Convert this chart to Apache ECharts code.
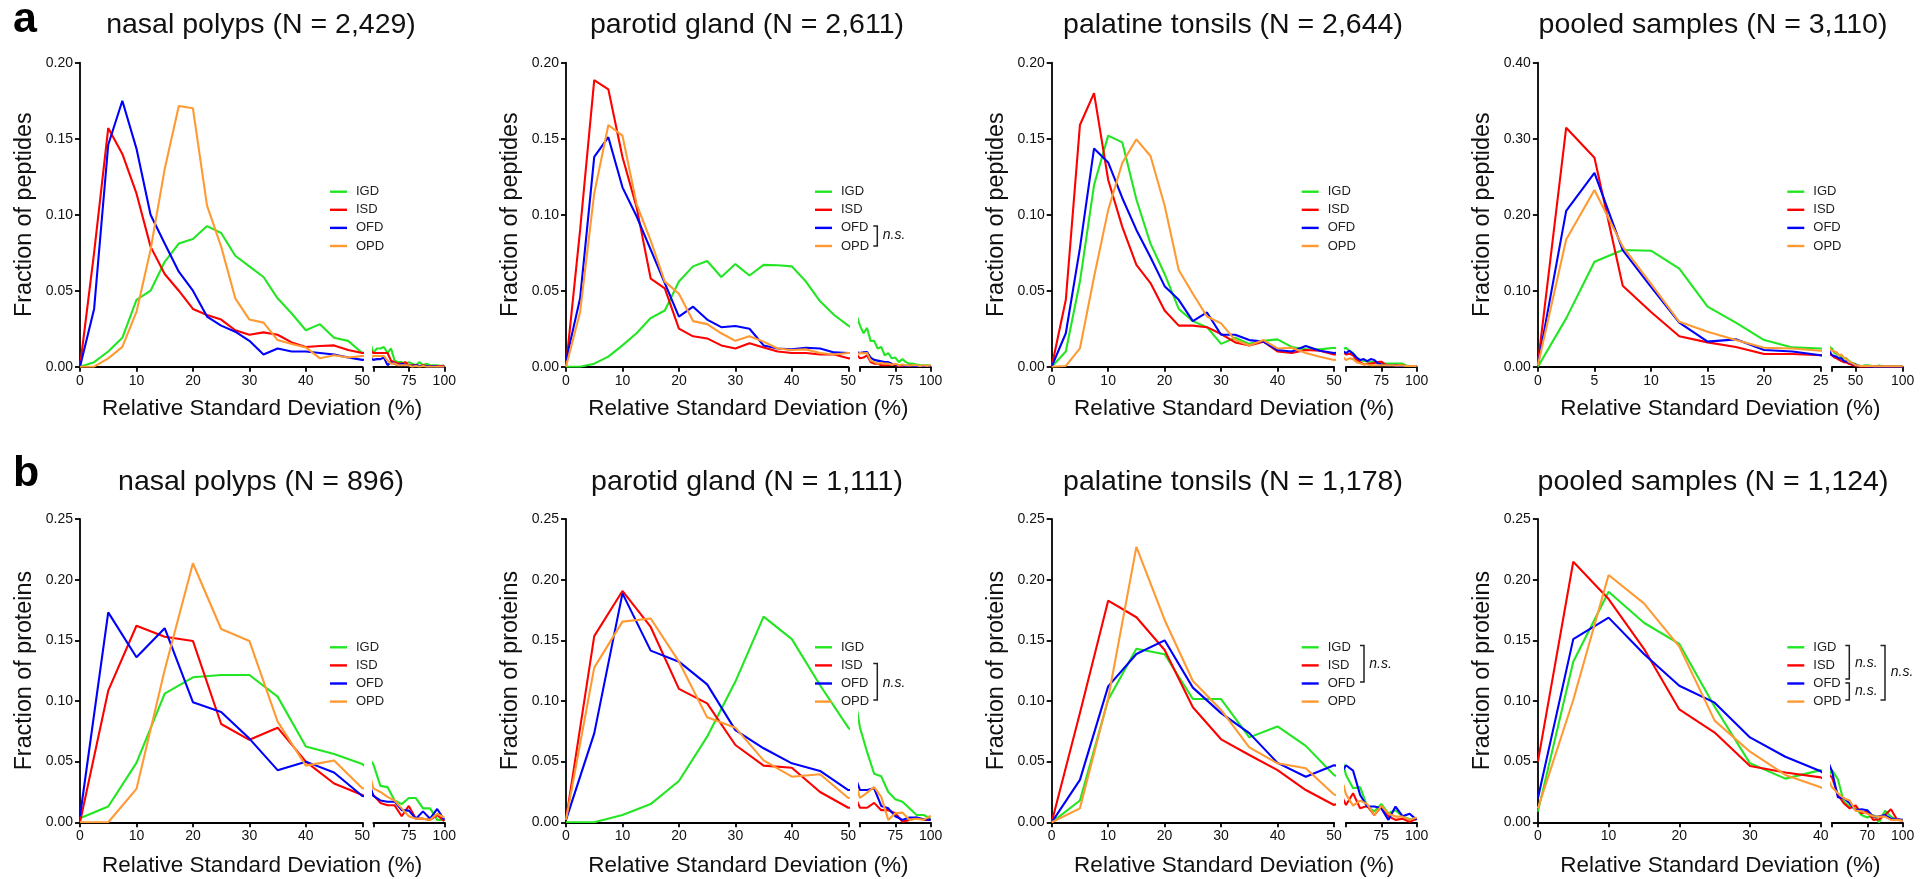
<!DOCTYPE html>
<html>
<head>
<meta charset="utf-8">
<script src="https://cdn.jsdelivr.net/npm/echarts@6/dist/echarts.min.js"></script>
<style>
  html, body { margin: 0; padding: 0; background: #fff; }
  #chart { width: 1932px; height: 879px; }
</style>
</head>
<body>
<div id="chart"></div>
<script>
// ---- data -------------------------------------------------------------
const methods = ['IGD', 'ISD', 'OFD', 'OPD'];

// bin centres (relative standard deviation, %)
const rsdPeptide = [0, 2.5, 5, 7.5, 10, 12.5, 15, 17.5, 20, 22.5, 25, 27.5, 30, 32.5, 35, 37.5, 40, 42.5, 45, 47.5, 50,
  52.5, 55, 57.5, 60, 62.5, 65, 67.5, 70, 72.5, 75, 77.5, 80, 82.5, 85, 87.5, 90, 92.5, 95, 97.5, 100];
const rsdProtein = [0, 5, 10, 15, 20, 25, 30, 35, 40, 45, 50, 55, 60, 65, 70, 75, 80, 85, 90, 95, 100];

// peptides – nasal polyps
const pepNasalIGD = [0, 0.003, 0.010, 0.019, 0.044, 0.050, 0.069, 0.081, 0.084, 0.0925, 0.088, 0.073, 0.066, 0.059, 0.045, 0.035, 0.024, 0.028, 0.019, 0.017, 0.009,
  0.012, 0.012, 0.013, 0.009, 0.012, 0.004, 0.003, 0.003, 0.002, 0.003, 0.002, 0.001, 0.003, 0.001, 0.002, 0.001, 0.001, 0.001, 0.0005, 0.001];
const pepNasalISD = [0, 0.075, 0.157, 0.140, 0.114, 0.079, 0.061, 0.050, 0.038, 0.034, 0.031, 0.024, 0.021, 0.0226, 0.021, 0.016, 0.013, 0.0136, 0.014, 0.011, 0.009,
  0.009, 0.009, 0.009, 0.009, 0.004, 0.003, 0.002, 0.002, 0.003, 0.001, 0.001, 0.001, 0.0005, 0.001, 0.0005, 0.0005, 0.0005, 0.0005, 0.0005, 0.0005];
const pepNasalOFD = [0, 0.038, 0.146, 0.175, 0.1435, 0.100, 0.081, 0.0625, 0.050, 0.033, 0.027, 0.023, 0.017, 0.008, 0.012, 0.010, 0.010, 0.009, 0.008, 0.006, 0.0045,
  0.005, 0.005, 0.006, 0.001, 0.003, 0.002, 0.001, 0.002, 0.001, 0.001, 0.0005, 0.001, 0.0005, 0.0005, 0.0005, 0, 0.0005, 0, 0, 0];
const pepNasalOPD = [0, 0, 0.0055, 0.013, 0.036, 0.077, 0.130, 0.1715, 0.170, 0.106, 0.079, 0.045, 0.031, 0.029, 0.0175, 0.015, 0.0127, 0.0055, 0.0075, 0.006, 0.007,
  0.007, 0.007, 0.007, 0.004, 0.002, 0.002, 0.001, 0.001, 0.001, 0.001, 0, 0.0005, 0, 0.0005, 0, 0, 0, 0, 0, 0];

// peptides – parotid gland
const pepParotidIGD = [0, 0, 0.002, 0.0066, 0.014, 0.022, 0.032, 0.037, 0.056, 0.066, 0.0695, 0.059, 0.0675, 0.060, 0.067, 0.0667, 0.066, 0.056, 0.043, 0.034, 0.027,
  0.022, 0.0255, 0.017, 0.017, 0.012, 0.013, 0.0075, 0.009, 0.0055, 0.006, 0.003, 0.005, 0.003, 0.002, 0.002, 0.0015, 0.001, 0.001, 0.001, 0.0008];
const pepParotidISD = [0, 0.09, 0.1886, 0.1825, 0.138, 0.105, 0.058, 0.0515, 0.025, 0.020, 0.0186, 0.014, 0.012, 0.0154, 0.0127, 0.010, 0.009, 0.009, 0.008, 0.008, 0.0055,
  0.006, 0.0075, 0.003, 0.002, 0.002, 0.001, 0.001, 0.001, 0.0015, 0.001, 0.0005, 0.0005, 0.0005, 0.0005, 0.0005, 0.0005, 0.0005, 0.0005, 0.0005, 0.0005];
const pepParotidOFD = [0.004, 0.045, 0.138, 0.151, 0.118, 0.099, 0.077, 0.055, 0.033, 0.0395, 0.031, 0.026, 0.0268, 0.025, 0.014, 0.012, 0.0114, 0.0125, 0.012, 0.0094, 0.009,
  0.0095, 0.0097, 0.006, 0.0045, 0.004, 0.0035, 0.003, 0.003, 0.002, 0.0015, 0.001, 0.001, 0.0005, 0.001, 0.0005, 0.0005, 0.0005, 0.0005, 0.0005, 0.0005];
const pepParotidOPD = [0, 0.036, 0.114, 0.159, 0.152, 0.107, 0.083, 0.056, 0.048, 0.030, 0.028, 0.022, 0.017, 0.020, 0.0165, 0.012, 0.011, 0.0114, 0.009, 0.008, 0.009,
  0.0088, 0.009, 0.004, 0.003, 0.002, 0.0025, 0.002, 0.002, 0.0015, 0.002, 0.001, 0.0015, 0.001, 0.001, 0.001, 0.001, 0.0005, 0.001, 0.0005, 0.001];

// peptides – palatine tonsils
const pepPalatineIGD = [0, 0.010, 0.056, 0.1195, 0.152, 0.1476, 0.110, 0.081, 0.061, 0.038, 0.030, 0.026, 0.015, 0.019, 0.015, 0.017, 0.018, 0.013, 0.0114, 0.0114, 0.0125,
  0.0103, 0.009, 0.006, 0.0044, 0.0037, 0.0035, 0.0033, 0.003, 0.0025, 0.002, 0.002, 0.002, 0.002, 0.002, 0.002, 0.002, 0.0007, 0.0005, 0.0005, 0.0003];
const pepPalatineISD = [0, 0.044, 0.159, 0.180, 0.123, 0.092, 0.067, 0.055, 0.037, 0.027, 0.027, 0.026, 0.0215, 0.016, 0.014, 0.0165, 0.010, 0.009, 0.011, 0.0105, 0.008,
  0.0085, 0.0075, 0.0045, 0.003, 0.0015, 0.002, 0.002, 0.0025, 0.003, 0.0033, 0.0015, 0.001, 0.001, 0.001, 0.0008, 0.0008, 0.0005, 0.0005, 0.0005, 0.0005];
const pepPalatineOFD = [0, 0.022, 0.078, 0.1436, 0.1344, 0.111, 0.090, 0.072, 0.053, 0.044, 0.030, 0.0357, 0.021, 0.021, 0.0175, 0.0165, 0.011, 0.010, 0.0136, 0.0105, 0.009,
  0.0105, 0.0085, 0.006, 0.0044, 0.005, 0.0037, 0.005, 0.0044, 0.0022, 0.0015, 0.001, 0.001, 0.001, 0.0008, 0.0005, 0.0005, 0.0005, 0.0005, 0.0005, 0.0005];
const pepPalatineOPD = [0, 0.0005, 0.012, 0.059, 0.103, 0.134, 0.1496, 0.1386, 0.106, 0.0636, 0.048, 0.033, 0.0285, 0.0175, 0.014, 0.0175, 0.012, 0.0125, 0.009, 0.0066, 0.0044,
  0.0055, 0.005, 0.003, 0.0022, 0.0015, 0.0015, 0.001, 0.001, 0.001, 0.001, 0.001, 0.001, 0.001, 0.0008, 0.0008, 0.0008, 0.0005, 0.0005, 0.0005, 0.0005];

// peptides – pooled samples
const pepPooledIGD = [0, 0.0636, 0.138, 0.1535, 0.1526, 0.129, 0.079, 0.058, 0.035, 0.0254, 0.024,
  0.018, 0.017, 0.015, 0.013, 0.011, 0.011, 0.008, 0.006, 0.005, 0.003, 0.002, 0.0013, 0.001, 0.002, 0.002, 0.0015, 0.001, 0.001, 0.001, 0.0015,
  0.001, 0.001, 0.0005, 0.0005, 0.0005, 0.0005, 0.0005, 0.0005, 0.0005, 0.0005];
const pepPooledISD = [0.004, 0.3145, 0.275, 0.1066, 0.072, 0.040, 0.032, 0.026, 0.0167, 0.0167, 0.015,
  0.012, 0.011, 0.009, 0.0075, 0.006, 0.0057, 0.004, 0.003, 0.002, 0.0013, 0.0005, 0, 0, 0, 0, 0, 0, 0, 0, 0,
  0, 0, 0, 0, 0, 0, 0, 0, 0, 0];
const pepPooledOFD = [0.002, 0.205, 0.255, 0.1535, 0.105, 0.058, 0.033, 0.036, 0.022, 0.020, 0.015,
  0.014, 0.013, 0.011, 0.011, 0.0075, 0.007, 0.0057, 0.005, 0.003, 0.003, 0.0013, 0.001, 0.0005, 0.0005, 0.0005, 0, 0, 0, 0, 0,
  0, 0, 0, 0, 0, 0, 0, 0, 0, 0];
const pepPooledOPD = [0.002, 0.1675, 0.2325, 0.158, 0.109, 0.059, 0.046, 0.035, 0.025, 0.024, 0.021,
  0.020, 0.019, 0.015, 0.016, 0.012, 0.011, 0.0066, 0.0057, 0.004, 0.0022, 0.0015, 0.001, 0.001, 0.001, 0.001, 0.001, 0.001, 0.0005, 0.0005, 0.0005,
  0.0005, 0.0005, 0.0005, 0.0005, 0.0005, 0.0005, 0.0005, 0.0005, 0.0005, 0.0005];

// proteins – nasal polyps
const protNasalIGD = [0.0033, 0.013, 0.049, 0.106, 0.1195, 0.1214, 0.1214, 0.1036, 0.0624, 0.0563, 0.048, 0.030, 0.029, 0.018, 0.015, 0.020, 0.020, 0.0115, 0.0115, 0.002, 0.002];
const protNasalISD = [0, 0.1085, 0.162, 0.153, 0.1495, 0.081, 0.068, 0.078, 0.050, 0.032, 0.0225, 0.016, 0.014, 0.014, 0.005, 0.0135, 0.003, 0.003, 0.002, 0.006, 0.001];
const protNasalOFD = [0.005, 0.173, 0.136, 0.160, 0.099, 0.091, 0.069, 0.043, 0.050, 0.041, 0.0217, 0.018, 0.017, 0.017, 0.010, 0.0096, 0.003, 0.009, 0.003, 0.011, 0.002];
const protNasalOPD = [0, 0, 0.0275, 0.1255, 0.2135, 0.1593, 0.1495, 0.083, 0.0467, 0.051, 0.028, 0.025, 0.021, 0.018, 0.0115, 0.005, 0.003, 0.003, 0.002, 0.007, 0.004];

// proteins – parotid gland
const protParotidIGD = [0, 0, 0.006, 0.015, 0.034, 0.0706, 0.116, 0.1695, 0.151, 0.113, 0.078, 0.058, 0.040, 0.038, 0.025, 0.019, 0.017, 0.0115, 0.006, 0.006, 0.003];
const protParotidISD = [0.002, 0.1535, 0.1907, 0.161, 0.110, 0.098, 0.0637, 0.0467, 0.045, 0.025, 0.012, 0.012, 0.016, 0.010, 0.010, 0.0075, 0.0005, 0.002, 0.004, 0.002, 0.002];
const protParotidOFD = [0.002, 0.0733, 0.1887, 0.1415, 0.1324, 0.1137, 0.076, 0.061, 0.0486, 0.0423, 0.0266, 0.0266, 0.028, 0.0135, 0.0115, 0.005, 0.002, 0.004, 0.004, 0.0025, 0.002];
const protParotidOPD = [0.002, 0.1275, 0.1654, 0.168, 0.1324, 0.0865, 0.078, 0.051, 0.0376, 0.0396, 0.020, 0.0245, 0.029, 0.021, 0.002, 0.0074, 0.008, 0.002, 0.003, 0.002, 0.0055];

// proteins – palatine tonsils
const protPalatineIGD = [0, 0.018, 0.101, 0.143, 0.1385, 0.1016, 0.1016, 0.070, 0.079, 0.063, 0.039, 0.028, 0.029, 0.013, 0.009, 0.015, 0.0074, 0.010, 0.0047, 0.0025, 0.003];
const protPalatineISD = [0, 0.09, 0.1827, 0.169, 0.142, 0.0948, 0.0684, 0.0555, 0.043, 0.0266, 0.0143, 0.024, 0.0115, 0.0135, 0.006, 0.013, 0.005, 0.002, 0.003, 0.0005, 0.003];
const protPalatineOFD = [0, 0.035, 0.112, 0.1387, 0.150, 0.111, 0.090, 0.0735, 0.049, 0.0376, 0.047, 0.0426, 0.0225, 0.013, 0.013, 0.0115, 0.002, 0.013, 0.005, 0.007, 0.002];
const protPalatineOPD = [0, 0.0115, 0.102, 0.227, 0.1668, 0.1165, 0.0926, 0.0618, 0.0486, 0.0445, 0.023, 0.0137, 0.0179, 0.015, 0.006, 0.0135, 0.007, 0.0047, 0.0047, 0.002, 0.004];

// proteins – pooled samples
const protPooledIGD = [0.0088, 0.1324, 0.190, 0.1645, 0.147, 0.0953, 0.0486, 0.036, 0.043, 0.0355, 0.017, 0.013, 0.0115, 0.006, 0.004, 0.006, 0, 0.0096, 0.0047, 0.002, 0.002];
const protPooledISD = [0.050, 0.2148, 0.184, 0.143, 0.093, 0.074, 0.0464, 0.041, 0.037, 0.0225, 0.0157, 0.0115, 0.014, 0.0074, 0.009, 0.002, 0.0025, 0.006, 0.0107, 0.0025, 0.0014];
const protPooledOFD = [0.0198, 0.151, 0.1687, 0.1387, 0.1126, 0.0986, 0.070, 0.054, 0.042, 0.0206, 0.0198, 0.0157, 0.010, 0.0107, 0.010, 0.0047, 0.005, 0.006, 0.003, 0.0025, 0.002];
const protPooledOPD = [0.0115, 0.1008, 0.2038, 0.1805, 0.1448, 0.0838, 0.0582, 0.039, 0.0288, 0.024, 0.0198, 0.018, 0.0096, 0.009, 0.007, 0.005, 0.0047, 0.0047, 0.002, 0.002, 0.0014];

// panel titles and axis text
const panelTitles = ['nasal polyps (N = 2,429)', 'parotid gland (N = 2,611)', 'palatine tonsils (N = 2,644)', 'pooled samples (N = 3,110)',
  'nasal polyps (N = 896)', 'parotid gland (N = 1,111)', 'palatine tonsils (N = 1,178)', 'pooled samples (N = 1,124)'];
const yNames = ['Fraction of peptides', 'Fraction of proteins'];
const xName = 'Relative Standard Deviation (%)';
const panelLetters = ['a', 'b'];

// axis ranges: main segment end, main tick step, y max / step, tail ticks and labels
const yMaxima = [0.20, 0.20, 0.20, 0.40, 0.25, 0.25, 0.25, 0.25];
const ySteps = [0.05, 0.05, 0.05, 0.10, 0.05, 0.05, 0.05, 0.05];
const xBreaks = [50, 50, 50, 25, 50, 50, 50, 40];
const xSteps = [10, 10, 10, 5, 10, 10, 10, 10];
const tailTicks = [[50, 75, 100], [50, 75, 100], [50, 75, 100], [25, 50, 100], [50, 75, 100], [50, 75, 100], [50, 75, 100], [40, 70, 100]];
const tailLabels = [[75, 100], [75, 100], [75, 100], [50, 100], [75, 100], [75, 100], [75, 100], [70, 100]];

const panelValues = [
  [pepNasalIGD, pepNasalISD, pepNasalOFD, pepNasalOPD],
  [pepParotidIGD, pepParotidISD, pepParotidOFD, pepParotidOPD],
  [pepPalatineIGD, pepPalatineISD, pepPalatineOFD, pepPalatineOPD],
  [pepPooledIGD, pepPooledISD, pepPooledOFD, pepPooledOPD],
  [protNasalIGD, protNasalISD, protNasalOFD, protNasalOPD],
  [protParotidIGD, protParotidISD, protParotidOFD, protParotidOPD],
  [protPalatineIGD, protPalatineISD, protPalatineOFD, protPalatineOPD],
  [protPooledIGD, protPooledISD, protPooledOFD, protPooledOPD]
];
const panelRsd = [rsdPeptide, rsdPeptide, rsdPeptide, rsdPeptide, rsdProtein, rsdProtein, rsdProtein, rsdProtein];

// ---- layout -----------------------------------------------------------
const FAMILY = '"Liberation Sans", Arial, Helvetica, sans-serif';
const colors = ['#22e622', '#ff0000', '#0000ff', '#ff9a33'];
const INK = '#111';

const columns = [
  { axis: 80,     mainEnd: 362.3,  tailStart: 373.3, tailEnd: 444.3,  legendX: 330,    titleX: 261 },
  { axis: 566,    mainEnd: 848.3,  tailStart: 860,   tailEnd: 930.7,  legendX: 815,    titleX: 747 },
  { axis: 1051.7, mainEnd: 1334,   tailStart: 1346,  tailEnd: 1416.7, legendX: 1301.7, titleX: 1233 },
  { axis: 1537.9, mainEnd: 1820.7, tailStart: 1832,  tailEnd: 1902.7, legendX: 1787.3, titleX: 1713 }
];
const rows = [
  { top: 62.7, bottom: 366.7, titleY: 25.5, xNameY: 409, legendY: 191.7, letterY: 20 },
  { top: 519,  bottom: 822.3, titleY: 482.5, xNameY: 866, legendY: 647.3, letterY: 474 }
];

const axisLineStyle = { color: '#000', width: 1.8 };
const tickLabel = { color: INK, fontSize: 14, fontFamily: FAMILY };

const grid = [], xAxis = [], yAxis = [], series = [], legend = [], graphic = [];

function text(str, x, y, font, opts) {
  opts = opts || {};
  const align = opts.align || 'center';
  const vAlign = opts.vAlign || 'middle';
  return {
    type: 'text', x: x, y: y, rotation: opts.rotation || 0, silent: true,
    style: { text: str, font: font, fill: opts.fill || INK,
      align: align, verticalAlign: vAlign, textAlign: align, textVerticalAlign: vAlign }
  };
}

panelTitles.forEach(function (title, i) {
  const row = rows[Math.floor(i / 4)];
  const col = columns[i % 4];
  const h = row.bottom - row.top;
  const gMain = grid.length;

  grid.push({ left: col.axis, top: row.top, width: col.mainEnd - col.axis, height: h, containLabel: false, outerBoundsMode: 'none' });
  grid.push({ left: col.tailStart, top: row.top, width: col.tailEnd - col.tailStart, height: h, containLabel: false, outerBoundsMode: 'none' });

  xAxis.push({
    gridIndex: gMain, type: 'value', min: 0, max: xBreaks[i], interval: xSteps[i],
    axisLine: { show: true, lineStyle: axisLineStyle },
    axisTick: { show: true, length: 5, lineStyle: axisLineStyle },
    axisLabel: Object.assign({ margin: 7, showMaxLabel: true, showMinLabel: true }, tickLabel),
    splitLine: { show: false }
  });
  xAxis.push({
    gridIndex: gMain + 1, type: 'value', min: xBreaks[i], max: 100,
    axisLine: { show: true, lineStyle: axisLineStyle },
    axisTick: { show: true, length: 5, lineStyle: axisLineStyle, customValues: tailTicks[i] },
    axisLabel: Object.assign({ margin: 7, customValues: tailLabels[i] }, tickLabel),
    splitLine: { show: false }
  });
  yAxis.push({
    gridIndex: gMain, type: 'value', min: 0, max: yMaxima[i], interval: ySteps[i],
    axisLine: { show: true, lineStyle: axisLineStyle },
    axisTick: { show: true, length: 5, lineStyle: axisLineStyle },
    axisLabel: Object.assign({ margin: 7, formatter: function (v) { return v.toFixed(2); } }, tickLabel),
    splitLine: { show: false }
  });
  yAxis.push({ gridIndex: gMain + 1, type: 'value', min: 0, max: yMaxima[i], show: false, splitLine: { show: false } });

  // each curve is drawn in both the main segment and the compressed tail segment
  methods.forEach(function (m, k) {
    const pts = panelRsd[i].map(function (x, j) { return [x, panelValues[i][k][j]]; });
    [gMain, gMain + 1].forEach(function (g) {
      series.push({
        name: m, type: 'line', xAxisIndex: g, yAxisIndex: g, data: pts,
        showSymbol: false, symbol: 'none', clip: true, silent: true, z: 2 + k * 0.1,
        color: colors[k],
        lineStyle: { color: colors[k], width: 2.1 },
        itemStyle: { color: colors[k] },
        emphasis: { disabled: true }
      });
    });
  });

  legend.push({
    orient: 'vertical', left: col.legendX, top: row.legendY - 7, padding: 0,
    data: methods, icon: 'rect', itemWidth: 17, itemHeight: 2.4, itemGap: 4.1,
    selectedMode: false,
    textStyle: { color: '#222', fontSize: 13, fontFamily: FAMILY, lineHeight: 14, padding: [0, 0, 0, 4] }
  });

  graphic.push(text(title, col.titleX, row.titleY, '28.5px ' + FAMILY));
  graphic.push(text(yNames[Math.floor(i / 4)], col.axis - 55.5, (row.top + row.bottom) / 2, '23.3px ' + FAMILY, { rotation: Math.PI / 2 }));
  graphic.push(text(xName, (col.axis + col.tailEnd) / 2, row.xNameY, '22.5px ' + FAMILY));
});

graphic.push(text(panelLetters[0], 13, rows[0].letterY, 'bold 43px ' + FAMILY, { align: 'left', fill: '#000' }));
graphic.push(text(panelLetters[1], 13, rows[1].letterY, 'bold 43px ' + FAMILY, { align: 'left', fill: '#000' }));

// significance brackets
function bracket(x, y1, y2, w) {
  return {
    type: 'polyline', silent: true,
    shape: { points: [[x - w, y1], [x, y1], [x, y2], [x - w, y2]] },
    style: { stroke: '#222', lineWidth: 1.5, fill: null }
  };
}
const NS_FONT = 'italic 14px ' + FAMILY;
graphic.push(bracket(877.3, 226, 246, 4), text('n.s.', 882.7, 235, NS_FONT, { align: 'left' }));
graphic.push(bracket(877.3, 663.5, 700, 4), text('n.s.', 882.7, 682.7, NS_FONT, { align: 'left' }));
graphic.push(bracket(1364, 645.5, 682, 4), text('n.s.', 1369.3, 664, NS_FONT, { align: 'left' }));
graphic.push(bracket(1849.3, 645.5, 679, 4), text('n.s.', 1855, 663.5, NS_FONT, { align: 'left' }));
graphic.push(bracket(1849.3, 683, 700, 4), text('n.s.', 1855, 691, NS_FONT, { align: 'left' }));
graphic.push(bracket(1885, 645.5, 700, 4.5), text('n.s.', 1890.7, 672.3, NS_FONT, { align: 'left' }));

const chart = echarts.init(document.getElementById('chart'), null, { renderer: 'canvas' });
chart.setOption({
  backgroundColor: '#fff',
  animation: false,
  tooltip: { show: false },
  grid: grid, xAxis: xAxis, yAxis: yAxis, series: series, legend: legend, graphic: graphic
});
</script>
</body>
</html>
